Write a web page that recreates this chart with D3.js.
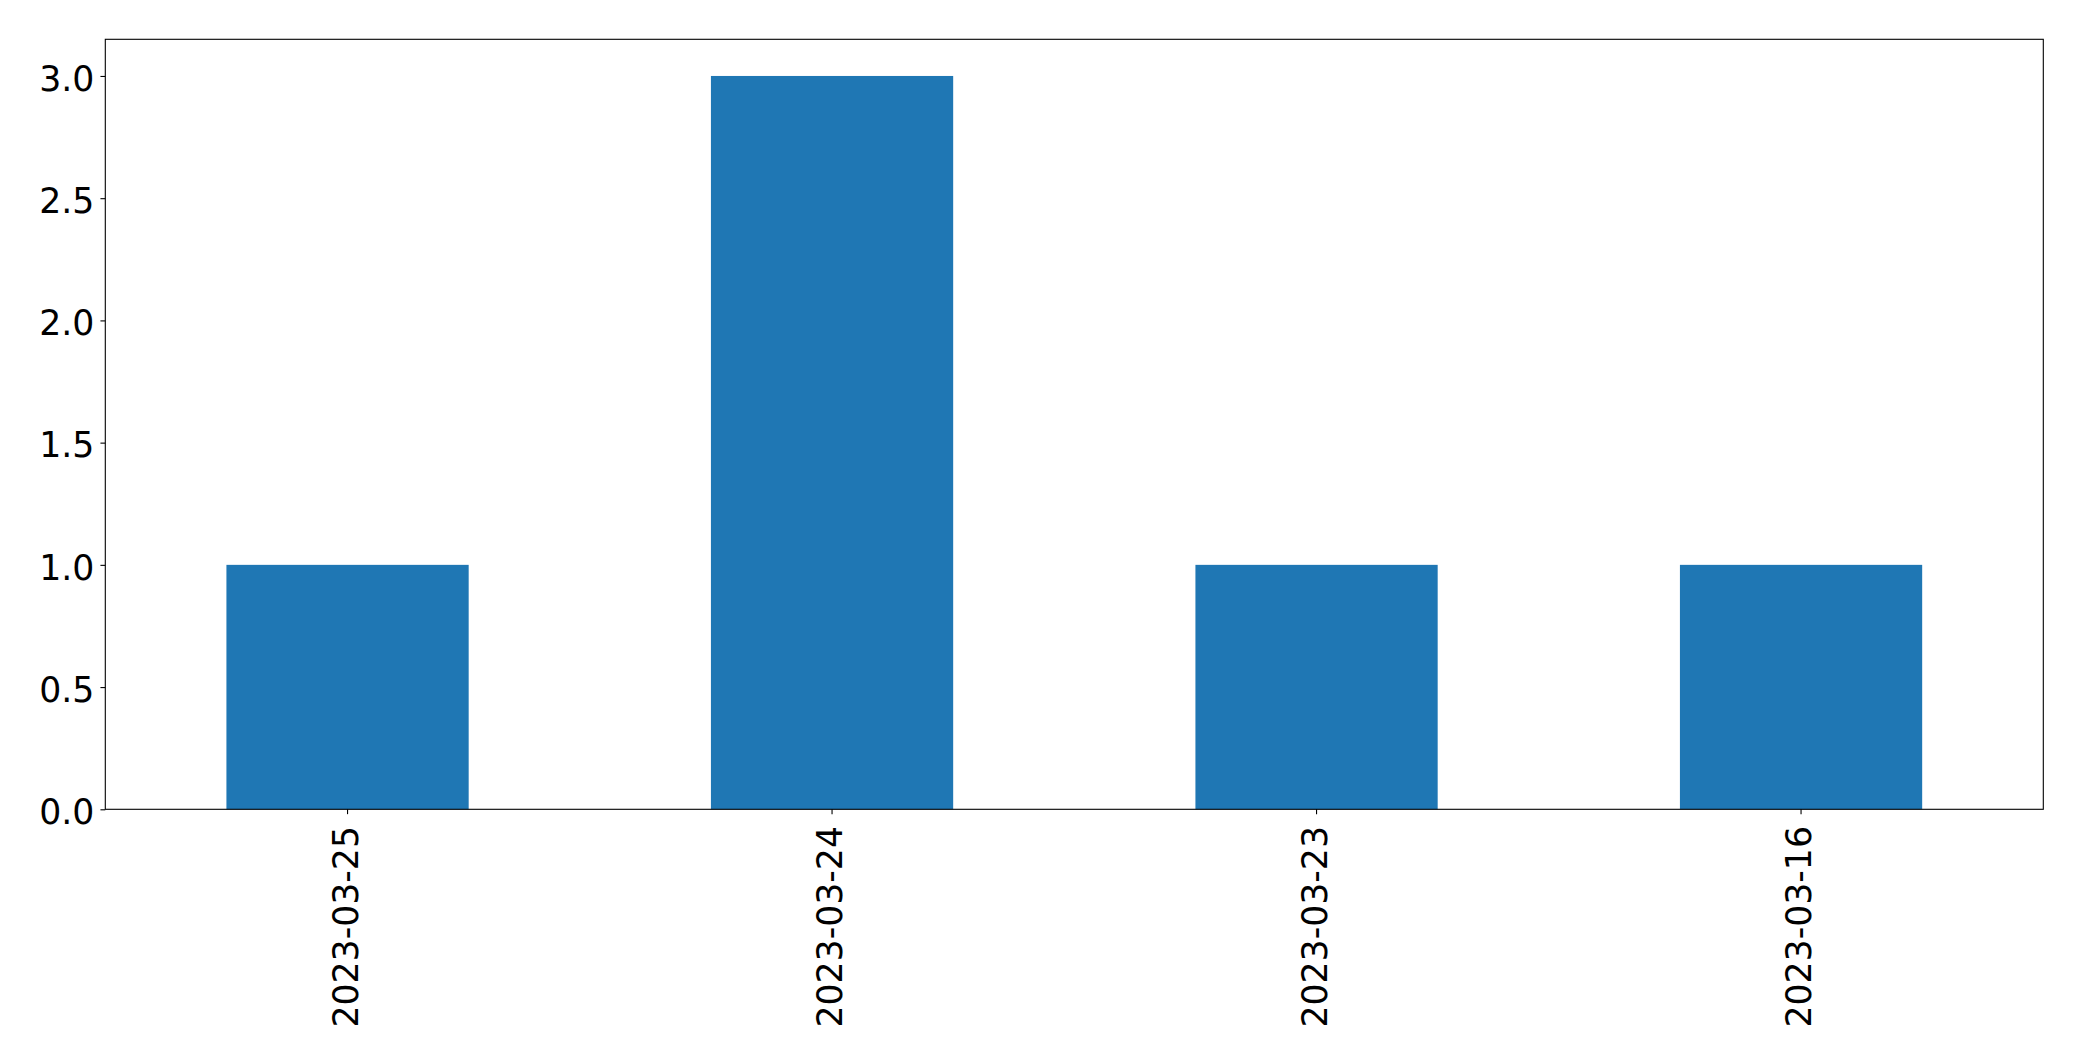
<!DOCTYPE html>
<html>
<head>
<meta charset="utf-8">
<script src="https://cdn.jsdelivr.net/npm/d3@7"></script>
<style>
  html, body { margin: 0; padding: 0; background: #fff; }
  svg { display: block; }
  text { font-family: "DejaVu Sans", sans-serif; }
</style>
</head>
<body>
<script>
const categories = ["2023-03-25", "2023-03-24", "2023-03-23", "2023-03-16"];
const values = [1, 3, 1, 1];
const yTicks = [0, 0.5, 1.0, 1.5, 2.0, 2.5, 3.0];

const W = 2082, H = 1061;
const margin = { left: 105.3, right: W - 2043.3, top: 39.3, bottom: H - 809.3 };

const svg = d3.select("body").append("svg").attr("width", W).attr("height", H);

const x = d3.scaleBand()
  .domain(categories)
  .range([margin.left, W - margin.right])
  .paddingInner(0.5)
  .paddingOuter(0.25);

const y = d3.scaleLinear()
  .domain([0, 3.15])
  .range([H - margin.bottom, margin.top]);

svg.append("g")
  .selectAll("rect")
  .data(values)
  .join("rect")
  .attr("x", (d, i) => x(categories[i]))
  .attr("width", x.bandwidth())
  .attr("y", d => y(d))
  .attr("height", d => y(0) - y(d))
  .attr("fill", "#1f77b4");

const fontSize = 34.7;

const yAxis = svg.append("g")
  .attr("transform", `translate(${margin.left},0)`)
  .call(d3.axisLeft(y).tickValues(yTicks).tickFormat(d3.format(".1f")).tickSize(4.86).tickPadding(6));
yAxis.select(".domain").remove();
yAxis.selectAll("line").attr("stroke", "#000").attr("stroke-width", 1.1);
yAxis.selectAll("text").attr("font-size", fontSize).attr("fill", "#000")
  .attr("font-family", "DejaVu Sans").attr("dy", "14.3px");

const xAxis = svg.append("g")
  .attr("transform", `translate(0,${H - margin.bottom})`)
  .call(d3.axisBottom(x).tickSize(4.86).tickPadding(4.86));
xAxis.select(".domain").remove();
xAxis.selectAll("line").attr("stroke", "#000").attr("stroke-width", 1.1);
xAxis.selectAll("text")
  .attr("font-size", fontSize).attr("fill", "#000").attr("font-family", "DejaVu Sans")
  .attr("text-anchor", "end")
  .attr("y", 0)
  .attr("dy", "10px")
  .attr("transform", "translate(0,16.7) rotate(-90)");

// frame
svg.append("rect")
  .attr("x", margin.left)
  .attr("y", margin.top)
  .attr("width", W - margin.left - margin.right)
  .attr("height", H - margin.top - margin.bottom)
  .attr("fill", "none")
  .attr("stroke", "#000")
  .attr("stroke-width", 1.1);
</script>
</body>
</html>
